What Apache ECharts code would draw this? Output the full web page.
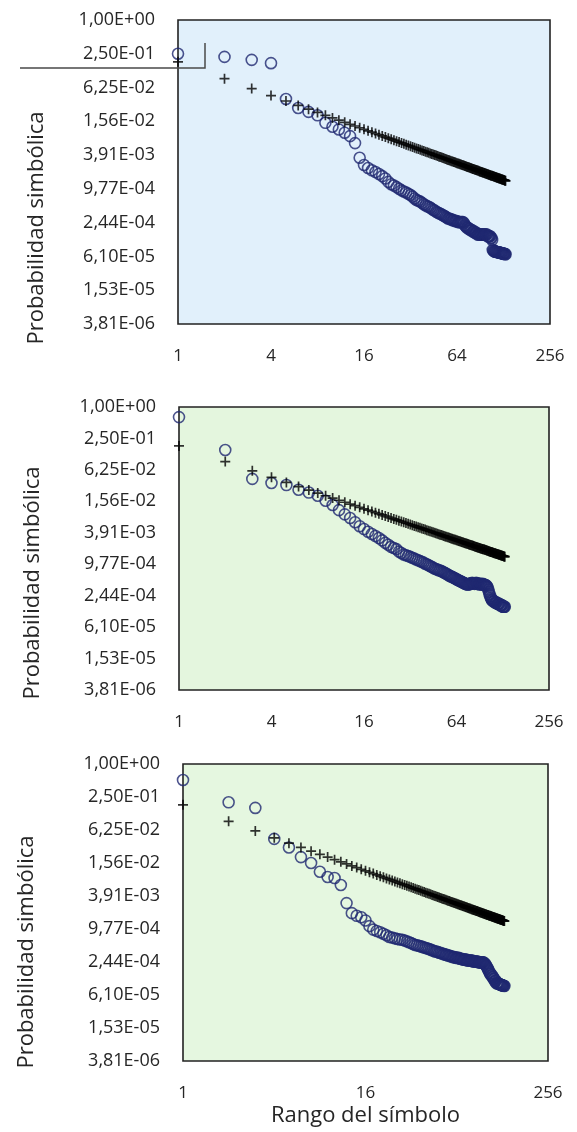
<!DOCTYPE html>
<html>
<head>
<meta charset="utf-8">
<title>Probabilidad simbólica vs rango del símbolo</title>
<script src="https://cdn.jsdelivr.net/npm/echarts@6/dist/echarts.min.js"></script>
<style>
  html, body { margin: 0; padding: 0; background: #fff; }
  #chart { width: 577px; height: 1132px; }
</style>
</head>
<body>
<div id="chart"></div>
<script>
// etiquetas de los ejes (escala log base 4)
var yTickLabels = ['1,00E+00', '2,50E-01', '6,25E-02', '1,56E-02', '3,91E-03',
                   '9,77E-04', '2,44E-04', '6,10E-05', '1,53E-05', '3,81E-06'];
var xTickLabels = ['1', '4', '16', '64', '256'];
var xTickLabels3 = ['1', '16', '256'];

// ley de Zipf ideal (+), rango 1..132
var zipf = [
  .18, .09, .06, .045, .036, .03, .0257, .0225, .02, .018,
  .0164, .015, .0138, .0129, .012, .01125, .0106, .01, .00947, .009,
  .00857, .00818, .00783, .0075, .0072, .00692, .00667, .00643, .00621, .006,
  .00581, .00563, .00545, .00529, .00514, .005, .00486, .00474, .00462, .0045,
  .00439, .00429, .00419, .00409, .004, .00391, .00383, .00375, .00367, .0036,
  .00353, .00346, .0034, .00333, .00327, .00321, .00316, .0031, .00305, .003,
  .00295, .0029, .00286, .00281, .00277, .00273, .00269, .00265, .00261, .00257,
  .00254, .0025, .00247, .00243, .0024, .00237, .00234, .00231, .00228, .00225,
  .00222, .0022, .00217, .00214, .00212, .00209, .00207, .00205, .00202, .002,
  .00198, .00196, .00194, .00191, .00189, .00188, .00186, .00184, .00182, .0018,
  .00178, .00176, .00175, .00173, .00171, .0017, .00168, .00167, .00165, .00164,
  .00162, .00161, .00159, .00158, .00157, .00155, .00154, .00153, .00151, .0015,
  .00149, .00148, .00146, .00145, .00144, .00143, .00142, .00141, .0014, .00138,
  .00137, .00136
];

// probabilidades observadas (o) por rango, un array por panel
var obs1 = [
  .25, .22, .195, .17, .039, .027, .023, .02, .0147, .0125, .0112, .0098, .0085, .0064, .0035,
  .0026, .0023, .0021, .00195, .0018, .00165, .0015, .0013, .00118, .00112, .00105, .00098, .00092, .00088, .00084,
  .0008, .00076, .00071, .00066, .00062, .0006, .00058, .00055, .00052, .0005, .00048, .00047, .00045, .00043, .00041,
  .0004, .00038, .00037, .00036, .00035, .00034, .00033, .00032, .00031, .0003, .00029, .00029, .00028, .00028, .00027,
  .00027, .00026, .00026, .00026, .00025, .00025, .00025, .00025, .00025, .00025, .00024, .00022, .00021, .0002, .0002,
  .00019, .00019, .00018, .00018, .00018, .00017, .00017, .00017, .00016, .00016, .00016, .00015, .00015, .00015, .00015,
  .00015, .00015, .00015, .00015, .00015, .00015, .00015, .00015, .00015, .00015, .00014, .00014, .00014, .00014, .00014,
  .00013, .00013, .00012, .00008, .000078, .000076, .000075, .000075, .000074, .000074, .000073, .000073, .000072, .000072, .000072,
  .000071, .000071, .00007, .00007, .00007, .000069, .000069, .000068, .000068, .000068, .000067, .000067
];
var obs2 = [
  .64, .15, .042, .035, .032, .026, .023, .02, .016, .0133, .0106, .0088, .0075, .0062, .0052,
  .0046, .0041, .0037, .0034, .0031, .0028, .0025, .0023, .0021, .002, .0019, .0017, .0016, .0015, .00145,
  .0014, .00135, .0013, .00125, .0012, .00116, .00112, .00109, .00105, .001, .00097, .00094, .0009, .00087, .00084,
  .00081, .00079, .00077, .00075, .00074, .00072, .0007, .00068, .00066, .00064, .00062, .0006, .00058, .00057, .00056,
  .00054, .00053, .00052, .0005, .00049, .00048, .00047, .00046, .00045, .00044, .00043, .00042, .00041, .00041, .0004,
  .0004, .0004, .00041, .00042, .00042, .00043, .00042, .00042, .00041, .00042, .00043, .00042, .00041, .00041, .0004,
  .00041, .00041, .0004, .0004, .00041, .0004, .0004, .00039, .00039, .00038, .00037, .00035, .00032, .00029, .00026,
  .00024, .00022, .00021, .0002, .0002, .00019, .00019, .00019, .00018, .00018, .00018, .00018, .00017, .00017, .00017,
  .00017, .00017, .00016, .00016, .00016, .00016, .00016, .00015, .00015, .00015, .00015, .00015
];
var obs3 = [
  .51, .2, .158, .043, .03, .02, .0156, .0108, .0087, .0083, .0062, .0029, .0019, .0017, .0016,
  .0014, .0011, .00095, .0009, .00085, .0008, .00075, .0007, .00068, .00066, .00064, .00063, .00062, .0006, .00058,
  .00056, .00054, .00052, .0005, .00049, .00048, .00047, .00046, .00045, .00044, .00043, .00042, .00041, .0004, .00039,
  .00038, .00038, .00037, .00036, .00036, .00035, .00034, .00034, .00033, .00033, .00032, .00032, .00031, .00031, .0003,
  .0003, .0003, .00029, .00029, .00029, .00029, .00028, .00028, .00028, .00027, .00027, .00027, .00027, .00027, .00026,
  .00026, .00026, .00026, .00026, .00026, .00026, .00025, .00025, .00025, .00025, .00025, .00025, .00025, .00024, .00024,
  .00024, .00024, .00024, .00024, .00024, .00024, .00023, .00023, .00022, .00021, .0002, .00019, .00018, .00017, .00016,
  .00015, .00015, .00014, .00014, .00013, .00013, .00012, .00012, .00011, .00011, .00011, .0001, .0001, .0001, .0001,
  .000098, .000097, .000096, .000095, .000094, .000093, .000092, .000092, .000091, .00009, .00009, .000089
];

var yTitle = 'Probabilidad simbólica';
var xTitle = 'Rango del símbolo';

var FONT = '"Open Sans", "Noto Sans", sans-serif';
var TXT = '#262626';

function byRank(arr) {
    return arr.map(function (v, i) { return [i + 1, v]; });
}
function yLabel(v) {
    var k = Math.round(-Math.log(v) / Math.log(4));
    return yTickLabels[k] || '';
}

var grids = [
    { left: 178, top: 20, width: 372, height: 304, backgroundColor: '#e1f0fb' },
    { left: 179, top: 407, width: 370, height: 283, backgroundColor: '#e4f6de' },
    { left: 183, top: 764, width: 365, height: 297, backgroundColor: '#e5f7e0' }
];
grids.forEach(function (g) {
    g.show = true;
    g.borderColor = '#222';
    g.borderWidth = 1.6;
});

var xAxes = [], yAxes = [], series = [];
var obsAll = [obs1, obs2, obs3];
for (var i = 0; i < 3; i++) {
    var last = i === 2;
    xAxes.push({
        type: 'log', gridIndex: i,
        logBase: last ? 16 : 4,
        min: 1, max: 256,
        axisLine: { show: false }, axisTick: { show: false }, splitLine: { show: false },
        axisLabel: {
            margin: 24, color: TXT, fontFamily: FONT, fontSize: 17,
            formatter: (function (lab, base) {
                return function (v) {
                    return lab[Math.round(Math.log(v) / Math.log(base))] || '';
                };
            })(last ? xTickLabels3 : xTickLabels, last ? 16 : 4)
        },
        name: last ? xTitle : '',
        nameLocation: 'middle', nameGap: 44,
        nameTextStyle: { color: TXT, fontFamily: FONT, fontSize: 22 }
    });
    yAxes.push({
        type: 'log', gridIndex: i,
        logBase: 4,
        min: Math.pow(4, -9), max: 1,
        axisLine: { show: false }, axisTick: { show: false }, splitLine: { show: false },
        axisLabel: { margin: 23, color: TXT, fontFamily: FONT, fontSize: 18, formatter: yLabel }
    });
    series.push({
        type: 'scatter', xAxisIndex: i, yAxisIndex: i,
        data: byRank(obsAll[i]),
        symbol: 'circle', symbolSize: 11,
        itemStyle: { color: 'rgba(0,0,0,0)', borderColor: '#1f2870', borderWidth: 1.6 },
        clip: false
    });
    series.push({
        type: 'scatter', xAxisIndex: i, yAxisIndex: i,
        data: byRank(zipf),
        symbol: 'path://M5,0L5,10M0,5L10,5', symbolSize: 10,
        itemStyle: { color: '#000', borderColor: '#000', borderWidth: 1.7 },
        clip: false
    });
}

var chart = echarts.init(document.getElementById('chart'));
chart.setOption({
    animation: false,
    backgroundColor: '#fff',
    grid: grids,
    xAxis: xAxes,
    yAxis: yAxes,
    series: series,
    graphic: [
        { type: 'text', x: 37, y: 228, rotation: Math.PI / 2,
          style: { text: yTitle, fill: TXT, font: '22px ' + FONT, align: 'center', verticalAlign: 'middle' } },
        { type: 'text', x: 33, y: 583, rotation: Math.PI / 2,
          style: { text: yTitle, fill: TXT, font: '22px ' + FONT, align: 'center', verticalAlign: 'middle' } },
        { type: 'text', x: 27, y: 952, rotation: Math.PI / 2,
          style: { text: yTitle, fill: TXT, font: '22px ' + FONT, align: 'center', verticalAlign: 'middle' } },
        // trazo sobrepuesto en el primer panel
        { type: 'polyline', z: 100,
          shape: { points: [[20, 68], [205, 68], [205, 43]] },
          style: { stroke: '#4a4a4a', lineWidth: 1.5, fill: null } }
    ]
});
</script>
</body>
</html>
